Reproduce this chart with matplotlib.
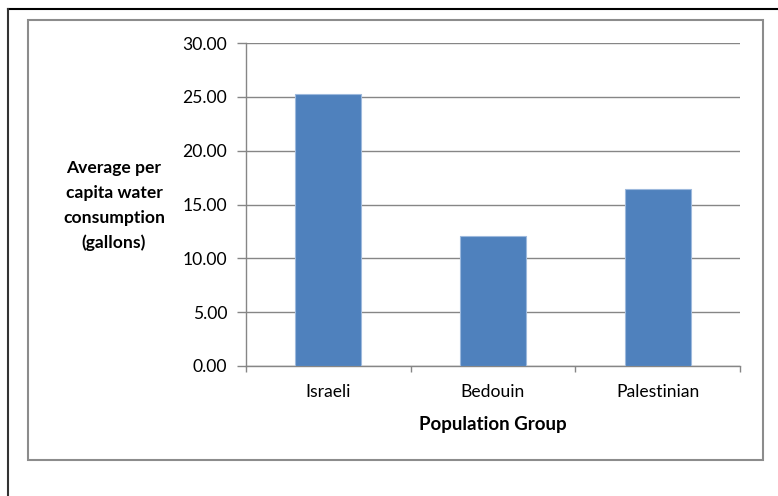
#!/usr/bin/env python3
# per capita water consumption by population group, Excel-style bar chart

import matplotlib.pyplot as plt
import numpy as np
from matplotlib.lines import Line2D
from matplotlib.patches import Rectangle

plt.rcParams.update({
    'font.family': ['Lato', 'DejaVu Sans'],
    'font.size': 12.6,
})

groups = ["Israeli", "Bedouin", "Palestinian"]
consumption = [25.3, 12.05, 16.4]
yticks = [0, 5, 10, 15, 20, 25, 30]

W, H = 778, 496
fig = plt.figure(figsize=(W / 100, H / 100), dpi=100)

# plot area in pixels (left, top, right, bottom)
x0, y0, x1, y1 = 246, 43, 740, 366
ax = fig.add_axes([x0 / W, 1 - y1 / H, (x1 - x0) / W, (y1 - y0) / H])

grid_c = '#868686'
x = np.arange(len(groups))
ax.bar(x, consumption, width=0.4, color='#4F81BD', edgecolor='#9DB9DD', linewidth=0.8, zorder=3)

ax.set_xlim(-0.5, len(groups) - 0.5)
ax.set_ylim(0, 30)
ax.set_yticks(yticks)
ax.set_yticklabels([f"{v:.2f}" for v in yticks])
ax.yaxis.grid(True, color=grid_c, linewidth=1)
ax.set_axisbelow(True)

# category labels centred, tick marks at category boundaries
ax.set_xticks(x)
ax.set_xticklabels(groups)
ax.tick_params(axis='x', length=0, pad=13)
ax.set_xticks(np.arange(-0.5, len(groups)), minor=True)
ax.tick_params(axis='x', which='minor', length=4.3, color=grid_c, width=1)
ax.tick_params(axis='y', length=6.5, color=grid_c, width=1, pad=7)

for s in ['top', 'right']:
    ax.spines[s].set_visible(False)
for s in ['left', 'bottom']:
    ax.spines[s].set_color(grid_c)
    ax.spines[s].set_linewidth(1)

ax.set_xlabel("Population Group", fontweight='bold', fontsize=13.5, va='center')
ax.xaxis.set_label_coords(0.5, (y1 - 424.5) / (y1 - y0))
fig.text(114 / W, 1 - 205.5 / H, "Average per\ncapita water\nconsumption\n(gallons)",
         ha='center', va='center', fontweight='bold', linespacing=1.69)

# chart area border and document frame
fig.patches.append(Rectangle((28 / W, 1 - 460 / H), (763 - 28) / W, (460 - 20) / H,
                             transform=fig.transFigure, fill=False,
                             edgecolor='#8C8C8C', linewidth=1.5))
fig.lines.append(Line2D([7.5 / W, 1], [1 - 9 / H, 1 - 9 / H], transform=fig.transFigure,
                        color='black', linewidth=1.5))
fig.lines.append(Line2D([7.5 / W, 7.5 / W], [0, 1 - 9 / H], transform=fig.transFigure,
                        color='#333333', linewidth=1.5))

plt.savefig("out.png", dpi=100)
